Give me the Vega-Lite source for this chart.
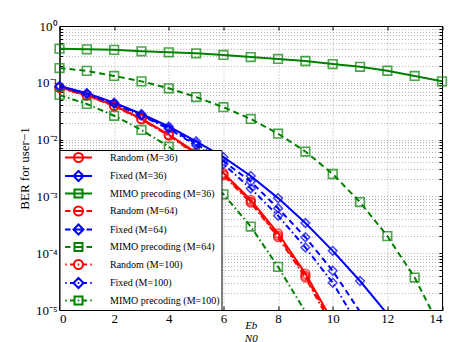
{
  "$schema": "https://vega.github.io/schema/vega-lite/v6.json",
  "width": 382.5,
  "height": 284,
  "autosize": "none",
  "padding": {"left": 59.5, "top": 26, "right": 30, "bottom": 32},
  "background": "white",
  "config": {
    "view": {"stroke": "black", "strokeWidth": 1},
    "font": "Liberation Serif",
    "axis": {
      "labelFont": "Liberation Serif", "titleFont": "Liberation Serif",
      "labelColor": "black", "titleColor": "black", "domainColor": "black", "tickColor": "black",
      "labelFontSize": 13, "titleFontWeight": "normal",
      "gridColor": "#777", "gridDash": [1, 2], "gridWidth": 1, "gridOpacity": 0.55
    },
    "legend": {
      "labelFont": "Liberation Serif", "labelFontSize": 10, "labelColor": "black"
    }
  },
  "data": {"values": [
    {"s": "Random (M=36)", "x": 0, "ber": 0.0832}, {"s": "Random (M=36)", "x": 1, "ber": 0.061}, {"s": "Random (M=36)", "x": 2, "ber": 0.0398}, {"s": "Random (M=36)", "x": 3, "ber": 0.0234}, {"s": "Random (M=36)", "x": 4, "ber": 0.0123}, {"s": "Random (M=36)", "x": 5, "ber": 0.00589}, {"s": "Random (M=36)", "x": 6, "ber": 0.00257}, {"s": "Random (M=36)", "x": 7, "ber": 0.000871}, {"s": "Random (M=36)", "x": 8, "ber": 0.000224}, {"s": "Random (M=36)", "x": 9, "ber": 0.0000437}, {"s": "Random (M=36)", "x": 10, "ber": 0.0000063},
    {"s": "Fixed (M=36)", "x": 0, "ber": 0.0879}, {"s": "Fixed (M=36)", "x": 1, "ber": 0.0653}, {"s": "Fixed (M=36)", "x": 2, "ber": 0.0447}, {"s": "Fixed (M=36)", "x": 3, "ber": 0.0282}, {"s": "Fixed (M=36)", "x": 4, "ber": 0.017}, {"s": "Fixed (M=36)", "x": 5, "ber": 0.00933}, {"s": "Fixed (M=36)", "x": 6, "ber": 0.0049}, {"s": "Fixed (M=36)", "x": 7, "ber": 0.00229}, {"s": "Fixed (M=36)", "x": 8, "ber": 0.000933}, {"s": "Fixed (M=36)", "x": 9, "ber": 0.000339}, {"s": "Fixed (M=36)", "x": 10, "ber": 0.00011}, {"s": "Fixed (M=36)", "x": 11, "ber": 0.0000324}, {"s": "Fixed (M=36)", "x": 12, "ber": 0.0000085},
    {"s": "MIMO precoding (M=36)", "x": 0, "ber": 0.398}, {"s": "MIMO precoding (M=36)", "x": 1, "ber": 0.389}, {"s": "MIMO precoding (M=36)", "x": 2, "ber": 0.38}, {"s": "MIMO precoding (M=36)", "x": 3, "ber": 0.358}, {"s": "MIMO precoding (M=36)", "x": 4, "ber": 0.344}, {"s": "MIMO precoding (M=36)", "x": 5, "ber": 0.331}, {"s": "MIMO precoding (M=36)", "x": 6, "ber": 0.309}, {"s": "MIMO precoding (M=36)", "x": 7, "ber": 0.284}, {"s": "MIMO precoding (M=36)", "x": 8, "ber": 0.263}, {"s": "MIMO precoding (M=36)", "x": 9, "ber": 0.242}, {"s": "MIMO precoding (M=36)", "x": 10, "ber": 0.214}, {"s": "MIMO precoding (M=36)", "x": 11, "ber": 0.191}, {"s": "MIMO precoding (M=36)", "x": 12, "ber": 0.163}, {"s": "MIMO precoding (M=36)", "x": 13, "ber": 0.132}, {"s": "MIMO precoding (M=36)", "x": 14, "ber": 0.106},
    {"s": "Random (M=64)", "x": 0, "ber": 0.0822}, {"s": "Random (M=64)", "x": 1, "ber": 0.0603}, {"s": "Random (M=64)", "x": 2, "ber": 0.0394}, {"s": "Random (M=64)", "x": 3, "ber": 0.0229}, {"s": "Random (M=64)", "x": 4, "ber": 0.012}, {"s": "Random (M=64)", "x": 5, "ber": 0.00569}, {"s": "Random (M=64)", "x": 6, "ber": 0.00245}, {"s": "Random (M=64)", "x": 7, "ber": 0.000813}, {"s": "Random (M=64)", "x": 8, "ber": 0.000204}, {"s": "Random (M=64)", "x": 9, "ber": 0.0000398}, {"s": "Random (M=64)", "x": 10, "ber": 0.0000056},
    {"s": "Fixed (M=64)", "x": 0, "ber": 0.0871}, {"s": "Fixed (M=64)", "x": 1, "ber": 0.0646}, {"s": "Fixed (M=64)", "x": 2, "ber": 0.0437}, {"s": "Fixed (M=64)", "x": 3, "ber": 0.0272}, {"s": "Fixed (M=64)", "x": 4, "ber": 0.016}, {"s": "Fixed (M=64)", "x": 5, "ber": 0.00851}, {"s": "Fixed (M=64)", "x": 6, "ber": 0.00417}, {"s": "Fixed (M=64)", "x": 7, "ber": 0.00182}, {"s": "Fixed (M=64)", "x": 8, "ber": 0.000617}, {"s": "Fixed (M=64)", "x": 9, "ber": 0.000191}, {"s": "Fixed (M=64)", "x": 10, "ber": 0.000049}, {"s": "Fixed (M=64)", "x": 11, "ber": 0.0000093},
    {"s": "MIMO precoding (M=64)", "x": 0, "ber": 0.182}, {"s": "MIMO precoding (M=64)", "x": 1, "ber": 0.162}, {"s": "MIMO precoding (M=64)", "x": 2, "ber": 0.132}, {"s": "MIMO precoding (M=64)", "x": 3, "ber": 0.106}, {"s": "MIMO precoding (M=64)", "x": 4, "ber": 0.08}, {"s": "MIMO precoding (M=64)", "x": 5, "ber": 0.0562}, {"s": "MIMO precoding (M=64)", "x": 6, "ber": 0.0372}, {"s": "MIMO precoding (M=64)", "x": 7, "ber": 0.0231}, {"s": "MIMO precoding (M=64)", "x": 8, "ber": 0.0127}, {"s": "MIMO precoding (M=64)", "x": 9, "ber": 0.00617}, {"s": "MIMO precoding (M=64)", "x": 10, "ber": 0.00248}, {"s": "MIMO precoding (M=64)", "x": 11, "ber": 0.000794}, {"s": "MIMO precoding (M=64)", "x": 12, "ber": 0.0002}, {"s": "MIMO precoding (M=64)", "x": 13, "ber": 0.0000372}, {"s": "MIMO precoding (M=64)", "x": 14, "ber": 0.0000042},
    {"s": "Random (M=100)", "x": 0, "ber": 0.0813}, {"s": "Random (M=100)", "x": 1, "ber": 0.0596}, {"s": "Random (M=100)", "x": 2, "ber": 0.0389}, {"s": "Random (M=100)", "x": 3, "ber": 0.0226}, {"s": "Random (M=100)", "x": 4, "ber": 0.0117}, {"s": "Random (M=100)", "x": 5, "ber": 0.0055}, {"s": "Random (M=100)", "x": 6, "ber": 0.00234}, {"s": "Random (M=100)", "x": 7, "ber": 0.000776}, {"s": "Random (M=100)", "x": 8, "ber": 0.000191}, {"s": "Random (M=100)", "x": 9, "ber": 0.0000372}, {"s": "Random (M=100)", "x": 10, "ber": 0.000005},
    {"s": "Fixed (M=100)", "x": 0, "ber": 0.0851}, {"s": "Fixed (M=100)", "x": 1, "ber": 0.0631}, {"s": "Fixed (M=100)", "x": 2, "ber": 0.0427}, {"s": "Fixed (M=100)", "x": 3, "ber": 0.0263}, {"s": "Fixed (M=100)", "x": 4, "ber": 0.0155}, {"s": "Fixed (M=100)", "x": 5, "ber": 0.00794}, {"s": "Fixed (M=100)", "x": 6, "ber": 0.00372}, {"s": "Fixed (M=100)", "x": 7, "ber": 0.00138}, {"s": "Fixed (M=100)", "x": 8, "ber": 0.000457}, {"s": "Fixed (M=100)", "x": 9, "ber": 0.000126}, {"s": "Fixed (M=100)", "x": 10, "ber": 0.0000302}, {"s": "Fixed (M=100)", "x": 11, "ber": 0.0000048},
    {"s": "MIMO precoding (M=100)", "x": 0, "ber": 0.061}, {"s": "MIMO precoding (M=100)", "x": 1, "ber": 0.0424}, {"s": "MIMO precoding (M=100)", "x": 2, "ber": 0.0263}, {"s": "MIMO precoding (M=100)", "x": 3, "ber": 0.0148}, {"s": "MIMO precoding (M=100)", "x": 4, "ber": 0.0075}, {"s": "MIMO precoding (M=100)", "x": 5, "ber": 0.00309}, {"s": "MIMO precoding (M=100)", "x": 6, "ber": 0.00109}, {"s": "MIMO precoding (M=100)", "x": 7, "ber": 0.000295}, {"s": "MIMO precoding (M=100)", "x": 8, "ber": 0.0000575}, {"s": "MIMO precoding (M=100)", "x": 9, "ber": 0.0000093}
  ]},
  "resolve": {"axis": {"x": "independent", "y": "independent"}},
  "encoding": {
    "color": {"field": "s", "type": "nominal",
      "scale": {"domain": ["Random (M=36)", "Fixed (M=36)", "MIMO precoding (M=36)", "Random (M=64)", "Fixed (M=64)", "MIMO precoding (M=64)", "Random (M=100)", "Fixed (M=100)", "MIMO precoding (M=100)"],
        "range": ["#ff0000", "#0000ff", "#008000", "#ff0000", "#0000ff", "#008000", "#ff0000", "#0000ff", "#008000"]},
      "legend": {"title": null, "orient": "bottom-left", "offset": 0, "padding": 1.5, "fillColor": "white", "strokeColor": "black",
        "labelFont": "Liberation Serif", "labelFontSize": 10, "labelColor": "black", "labelLimit": 200,
        "symbolSize": 100, "symbolOffset": 11.5, "labelOffset": 25.5, "rowPadding": 0.5, "symbolStrokeWidth": 2, "symbolType": "stroke",
        "encode": {"symbols": {"update": {
          "shape": {"signal": "(indexof(datum.value,'M=36')>=0 ? 'M-2.7,0L2.7,0' : indexof(datum.value,'M=64')>=0 ? 'M-2.7,0L-1.6,0M-0.9,0L0.9,0M1.6,0L2.7,0' : 'M-2.65,0L-2.35,0M-1.7,0L-0.9,0M-0.15,0L0.15,0M0.9,0L1.7,0M2.35,0L2.65,0') + (indexof(datum.value,'Random')>=0 ? 'M0.9,0A0.9,0.9,0,1,1,-0.9,0A0.9,0.9,0,1,1,0.9,0' : indexof(datum.value,'Fixed')>=0 ? 'M0,-1L1,0L0,1L-1,0Z' : 'M-0.8,-0.8L0.8,-0.8L0.8,0.8L-0.8,0.8Z')"},
          "fill": {"value": "transparent"},
          "strokeWidth": {"value": 2}
        }}}}}
  },
  "layer": [
    {
      "transform": [{"filter": "indexof(datum.s,'M=36')>=0"}],
      "mark": {"type": "line", "clip": true, "strokeWidth": 2},
      "encoding": {
        "x": {"field": "x", "type": "quantitative", "scale": {"domain": [0, 14], "nice": false},
          "axis": {"orient": "bottom", "values": [0, 2, 4, 6, 8, 10, 12, 14], "grid": true, "tickSize": -4, "labelPadding": 6.5,
            "title": ["Eb", "N0"], "titleFontSize": 11, "titleFontStyle": "italic", "titleLineHeight": 13, "titleY": 9, "titleBaseline": "top"}},
        "y": {"field": "ber", "type": "quantitative", "scale": {"type": "log", "domain": [0.00001, 1], "nice": false},
          "axis": {"orient": "left", "grid": true, "tickSize": -3, "labelPadding": 5.5, "labelOverlap": false,
            "values": [1e-5, 2e-5, 3e-5, 4e-5, 5e-5, 6e-5, 7e-5, 8e-5, 9e-5, 1e-4, 2e-4, 3e-4, 4e-4, 5e-4, 6e-4, 7e-4, 8e-4, 9e-4, 0.001, 0.002, 0.003, 0.004, 0.005, 0.006, 0.007, 0.008, 0.009, 0.01, 0.02, 0.03, 0.04, 0.05, 0.06, 0.07, 0.08, 0.09, 0.1, 0.2, 0.3, 0.4, 0.5, 0.6, 0.7, 0.8, 0.9, 1],
            "labelExpr": "datum.value==1?'10⁰':datum.value==0.1?'10⁻¹':datum.value==0.01?'10⁻²':datum.value==0.001?'10⁻³':datum.value==0.0001?'10⁻⁴':datum.value==0.00001?'10⁻⁵':''",
            "title": "BER for user−1", "titleFontSize": 13, "titlePadding": 4}}
      }
    },
    {
      "transform": [{"filter": "indexof(datum.s,'M=64')>=0"}],
      "mark": {"type": "line", "clip": true, "strokeWidth": 2, "strokeDash": [6, 4]},
      "encoding": {
        "x": {"field": "x", "type": "quantitative", "axis": null},
        "y": {"field": "ber", "type": "quantitative", "axis": null}
      }
    },
    {
      "transform": [{"filter": "indexof(datum.s,'M=100')>=0"}],
      "mark": {"type": "line", "clip": true, "strokeWidth": 2, "strokeDash": [6, 3, 1.5, 3]},
      "encoding": {
        "x": {"field": "x", "type": "quantitative", "axis": null},
        "y": {"field": "ber", "type": "quantitative", "axis": null}
      }
    },
    {
      "transform": [{"filter": "datum.ber >= 0.00001 && indexof(datum.s,'Random')>=0"}],
      "mark": {"type": "point", "shape": "circle", "filled": false, "strokeWidth": 1.6, "size": 75},
      "encoding": {
        "x": {"field": "x", "type": "quantitative", "axis": null},
        "y": {"field": "ber", "type": "quantitative", "axis": null}
      }
    },
    {
      "transform": [{"filter": "datum.ber >= 0.00001 && indexof(datum.s,'Fixed')>=0"}],
      "mark": {"type": "point", "shape": "diamond", "filled": false, "strokeWidth": 1.6, "size": 75},
      "encoding": {
        "x": {"field": "x", "type": "quantitative", "axis": null},
        "y": {"field": "ber", "type": "quantitative", "axis": null}
      }
    },
    {
      "transform": [{"filter": "datum.ber >= 0.00001 && indexof(datum.s,'MIMO')>=0"}],
      "mark": {"type": "point", "shape": "square", "filled": false, "strokeWidth": 1.6, "size": 75},
      "encoding": {
        "x": {"field": "x", "type": "quantitative",
          "axis": {"orient": "top", "values": [0, 2, 4, 6, 8, 10, 12, 14], "grid": false, "labels": false, "tickSize": -4, "title": null}},
        "y": {"field": "ber", "type": "quantitative",
          "axis": {"orient": "right", "grid": false, "labels": false, "tickSize": -3, "title": null,
            "values": [1e-5, 2e-5, 3e-5, 4e-5, 5e-5, 6e-5, 7e-5, 8e-5, 9e-5, 1e-4, 2e-4, 3e-4, 4e-4, 5e-4, 6e-4, 7e-4, 8e-4, 9e-4, 0.001, 0.002, 0.003, 0.004, 0.005, 0.006, 0.007, 0.008, 0.009, 0.01, 0.02, 0.03, 0.04, 0.05, 0.06, 0.07, 0.08, 0.09, 0.1, 0.2, 0.3, 0.4, 0.5, 0.6, 0.7, 0.8, 0.9, 1]}}
      }
    }
  ]
}
